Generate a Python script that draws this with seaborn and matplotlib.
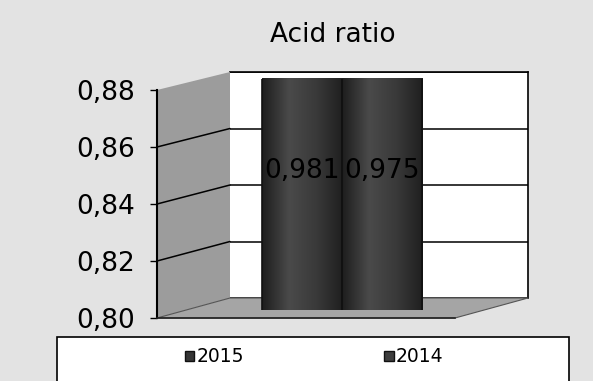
import numpy as np
import pandas as pd
import matplotlib
matplotlib.use("Agg")
import matplotlib.pyplot as plt
from matplotlib.patches import Polygon, Rectangle, Patch
from matplotlib.lines import Line2D
from matplotlib.colors import LinearSegmentedColormap
from matplotlib.ticker import FuncFormatter
import seaborn as sns

# --- data ---
indicator = ["Acid ratio"]
years = ["2015", "2014"]
values = [0.981, 0.975]
value_labels = ["0,981", "0,975"]
y_ticks = [0.80, 0.82, 0.84, 0.86, 0.88]
y_min, y_max = 0.80, 0.88

bar_colors = ["#353535", "#3d3d3d"]

sns.set_style("white")
plt.rcParams["font.family"] = ["DejaVu Sans"]

W, H = 593, 381
fig = plt.figure(figsize=(W / 100, H / 100), dpi=100, facecolor="#e3e3e3")


def box(l, t, r, b):
    return [l / W, 1 - b / H, (r - l) / W, (b - t) / H]


# --- back wall (far plane) ---
ax_back = fig.add_axes(box(230, 72, 528, 298))
ax_back.set_zorder(0)
ax_back.set_facecolor("white")
ax_back.set_xlim(-0.5, 0.5)
ax_back.set_ylim(y_min, y_max)
ax_back.set_yticks(y_ticks)
ax_back.yaxis.grid(True, color="black", lw=1.1)
ax_back.tick_params(left=False, labelleft=False, bottom=False, labelbottom=False)
for side in ["left", "bottom"]:
    ax_back.spines[side].set_visible(False)
for side in ["top", "right"]:
    ax_back.spines[side].set_color("black")
    ax_back.spines[side].set_linewidth(1.2)

# --- front plane (axis with ticks) ---
ax_front = fig.add_axes(box(157, 90, 455, 318))
ax_front.set_zorder(3)
ax_front.patch.set_visible(False)
ax_front.set_xlim(-0.5, 0.5)
ax_front.set_ylim(y_min, y_max)
ax_front.set_yticks(y_ticks)
ax_front.yaxis.set_major_formatter(FuncFormatter(lambda v, p: f"{v:.2f}".replace(".", ",")))
ax_front.tick_params(axis="y", direction="out", length=5, width=1, pad=11,
                     labelsize=19, colors="black", left=True)
ax_front.tick_params(axis="x", bottom=False, labelbottom=False)
for side in ["top", "right"]:
    ax_front.spines[side].set_visible(False)
ax_front.spines["left"].set_color("black")
ax_front.spines["left"].set_linewidth(1.5)
ax_front.spines["bottom"].set_color("#222222")
ax_front.spines["bottom"].set_linewidth(1.2)

# --- side wall and floor built from the two planes ---
to_fig = fig.transFigure.inverted()


def pt(ax, x, y):
    return to_fig.transform(ax.transData.transform((x, y)))


x0, x1 = -0.5, 0.5
side = Polygon([pt(ax_front, x0, y_min), pt(ax_front, x0, y_max),
                pt(ax_back, x0, y_max), pt(ax_back, x0, y_min)],
               closed=True, transform=fig.transFigure, facecolor="#9c9c9c",
               edgecolor="none", zorder=1)
fig.add_artist(side)
floor = Polygon([pt(ax_front, x0, y_min), pt(ax_front, x1, y_min),
                 pt(ax_back, x1, y_min), pt(ax_back, x0, y_min)],
                closed=True, transform=fig.transFigure, facecolor="#a5a5a5",
                edgecolor="#555555", lw=0.8, zorder=1)
fig.add_artist(floor)
for t in y_ticks[1:-1]:
    a, b = pt(ax_front, x0, t), pt(ax_back, x0, t)
    fig.add_artist(Line2D([a[0], b[0]], [a[1], b[1]], transform=fig.transFigure,
                          color="black", lw=1.1, zorder=1.5))

# --- cylinders (mid-depth plane) ---
ax_mid = fig.add_axes(box(193, 79, 491, 310))
ax_mid.set_zorder(2)
ax_mid.patch.set_visible(False)
df = pd.DataFrame({"indicator": indicator * len(years), "year": years, "value": values})
sns.barplot(data=df, x="indicator", y="value", hue="year", hue_order=years,
            palette=bar_colors, width=0.54, saturation=1, legend=False,
            edgecolor="#111111", linewidth=1.2, ax=ax_mid)

cyl = LinearSegmentedColormap.from_list("cyl", ["#1e1e1e", "#4a4a4a", "#3a3a3a", "#202020"])
grad = np.linspace(0, 1, 64).reshape(1, -1)
for p in list(ax_mid.patches):
    bx, bw = p.get_x(), p.get_width()
    im = ax_mid.imshow(grad, extent=[bx, bx + bw, y_min, y_max], aspect="auto",
                       cmap=cyl, zorder=1.5, interpolation="bilinear")
    im.set_clip_path(p)
    p.set_facecolor("none")
    p.set_zorder(2)

for p, lab in zip(ax_mid.patches, value_labels):
    ax_mid.text(p.get_x() + p.get_width() / 2, 0.848, lab, ha="center", va="center",
                fontsize=19, color="black", zorder=3)

ax_mid.set_xlim(-0.5, 0.5)
ax_mid.set_ylim(y_min, y_max)
ax_mid.axis("off")

# --- title ---
fig.text(333 / W, 1 - 35 / H, "Acid ratio", ha="center", va="center",
         fontsize=19, color="black")

# --- legend ---
fig.add_artist(Rectangle((57 / W, 1 - 395 / H), (569 - 57) / W, (395 - 337) / H,
                         transform=fig.transFigure, facecolor="white",
                         edgecolor="black", lw=1.2, zorder=4))
handles = [Patch(facecolor=c, edgecolor="#111111") for c in bar_colors]
leg = fig.legend(handles, years, ncol=2, frameon=False, loc="center",
                 bbox_to_anchor=(314 / W, 1 - 357 / H), fontsize=13.5,
                 handlelength=0.5, handleheight=0.5, handletextpad=0.1,
                 columnspacing=7.5, labelcolor="black")
leg.set_zorder(5)

fig.savefig("out.png", dpi=100, facecolor=fig.get_facecolor())
